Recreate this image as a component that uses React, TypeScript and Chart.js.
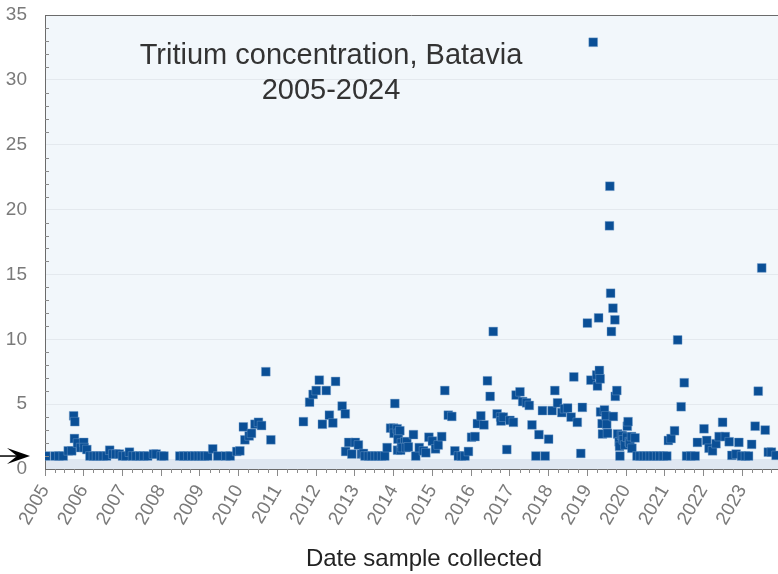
import React, { useEffect, useRef } from "react";
import { Chart, registerables } from "chart.js";

Chart.register(...registerables);

// Sample dates (decimal years) and tritium concentration values
const sampleYear: number[] = [
  2005.02, 2005.26, 2005.36, 2005.47, 2005.6, 2005.69, 2005.74, 2005.77, 2005.76, 2005.84,
  2005.92, 2006.0, 2006.01, 2006.08, 2006.16, 2006.25, 2006.33, 2006.42, 2006.5, 2006.59,
  2006.67, 2006.75, 2006.83, 2006.92, 2007.0, 2007.09, 2007.18, 2007.26, 2007.35, 2007.45,
  2007.55, 2007.65, 2007.8, 2007.87, 2008.0, 2008.07, 2008.48, 2008.58, 2008.69, 2008.79,
  2008.87, 2008.96, 2009.04, 2009.12, 2009.2, 2009.33, 2009.46, 2009.67, 2009.78, 2009.95,
  2010.03, 2010.12, 2010.16, 2010.27, 2010.33, 2010.42, 2010.51, 2010.59, 2010.7, 2010.83,
  2011.67, 2011.83, 2011.92, 2012.0, 2012.08, 2012.16, 2012.26, 2012.34, 2012.43, 2012.5,
  2012.67, 2012.75, 2012.76, 2012.84, 2012.92, 2013.01, 2013.09, 2013.17, 2013.22, 2013.26,
  2013.35, 2013.43, 2013.52, 2013.6, 2013.69, 2013.77, 2013.83, 2013.92, 2014.0, 2014.03,
  2014.01, 2014.09, 2014.12, 2014.16, 2014.11, 2014.1, 2014.18, 2014.2, 2014.29, 2014.34,
  2014.22, 2014.32, 2014.38, 2014.51, 2014.57, 2014.66, 2014.77, 2014.83, 2014.91, 2015.0,
  2015.08, 2015.15, 2015.24, 2015.32, 2015.41, 2015.5, 2015.58, 2015.67, 2015.75, 2015.84,
  2015.93, 2016.01, 2016.1, 2016.16, 2016.25, 2016.33, 2016.42, 2016.49, 2016.57, 2016.67,
  2016.76, 2016.77, 2016.83, 2016.92, 2017.0, 2017.09, 2017.16, 2017.26, 2017.33, 2017.43,
  2017.5, 2017.57, 2017.67, 2017.75, 2017.84, 2017.91, 2018.0, 2018.09, 2018.16, 2018.23,
  2018.34, 2018.41, 2018.49, 2018.58, 2018.65, 2018.74, 2018.83, 2018.87, 2019.0, 2019.09,
  2019.15, 2019.24, 2019.26, 2019.29, 2019.31, 2019.33, 2019.34, 2019.38, 2019.39, 2019.44,
  2019.48, 2019.5, 2019.52, 2019.57, 2019.58, 2019.6, 2019.62, 2019.66, 2019.67, 2019.71,
  2019.72, 2019.76, 2019.78, 2019.82, 2019.83, 2019.84, 2019.88, 2019.91, 2019.93, 2019.97,
  2020.02, 2020.03, 2020.05, 2020.08, 2020.1, 2020.14, 2020.15, 2020.23, 2020.28, 2020.36,
  2020.45, 2020.53, 2020.62, 2020.7, 2020.79, 2020.87, 2020.96, 2021.05, 2021.09, 2021.16,
  2021.25, 2021.33, 2021.42, 2021.5, 2021.56, 2021.67, 2021.78, 2021.84, 2022.01, 2022.08,
  2022.14, 2022.23, 2022.32, 2022.4, 2022.49, 2022.56, 2022.66, 2022.73, 2022.84, 2022.91,
  2022.98, 2023.08, 2023.16, 2023.24, 2023.33, 2023.41, 2023.5, 2023.59, 2023.67, 2023.75,
  2023.87,
];

const tritium: number[] = [
  1.0, 1.0, 1.0, 1.0, 1.4, 1.4, 4.1, 3.65, 2.35, 2.0,
  1.65, 2.05, 1.65, 1.5, 1.0, 1.0, 1.0, 1.0, 1.0, 1.0,
  1.45, 1.15, 1.15, 1.15, 1.0, 1.0, 1.3, 1.0, 1.0, 1.0,
  1.0, 1.0, 1.15, 1.15, 1.0, 1.0, 1.0, 1.0, 1.0, 1.0,
  1.0, 1.0, 1.0, 1.0, 1.0, 1.55, 1.0, 1.0, 1.0, 1.35,
  1.4, 3.25, 2.25, 2.55, 2.75, 3.45, 3.6, 3.35, 7.5, 2.25,
  3.65, 5.15, 5.75, 6.05, 6.85, 3.45, 6.05, 4.15, 3.55, 6.75,
  4.85, 4.25, 1.35, 2.05, 1.15, 2.05, 1.85, 1.15, 1.2, 1.0,
  1.0, 1.0, 1.0, 1.0, 1.0, 1.0, 1.65, 3.15, 3.15, 5.05,
  2.75, 3.1, 2.75, 2.95, 2.3, 1.45, 1.45, 2.0, 2.1, 2.1,
  1.65, 1.65, 1.7, 2.65, 1.0, 1.65, 1.4, 1.25, 2.45, 2.15,
  1.55, 1.85, 2.5, 6.05, 4.15, 4.05, 1.4, 1.0, 1.0, 1.0,
  1.35, 2.45, 2.5, 3.5, 4.1, 3.4, 6.8, 5.6, 10.6, 4.25,
  4.0, 3.7, 4.0, 1.5, 3.75, 3.6, 5.7, 5.95, 5.2, 5.1,
  4.9, 3.4, 1.0, 2.65, 4.5, 1.0, 2.3, 4.5, 6.05, 5.1,
  4.35, 4.65, 4.7, 4.0, 7.1, 3.6, 1.2, 4.75, 11.25, 6.85,
  32.9, 7.25, 6.4, 11.65, 7.6, 6.95, 4.4, 3.5, 2.7, 4.55,
  4.1, 3.45, 2.75, 18.75, 21.8, 13.55, 10.6, 12.4, 4.05, 11.5,
  5.6, 6.05, 2.7, 2.1, 1.75, 1.0, 2.6, 2.55, 2.25, 1.85,
  2.45, 3.3, 3.65, 2.1, 2.0, 2.5, 1.6, 2.4, 1.0, 1.0,
  1.0, 1.0, 1.0, 1.0, 1.0, 1.0, 1.0, 1.0, 2.2, 2.35,
  2.95, 9.95, 4.8, 6.65, 1.0, 1.0, 1.0, 2.05, 3.1, 2.2,
  1.6, 1.4, 1.95, 2.5, 3.6, 2.5, 2.1, 1.05, 1.15, 2.05,
  1.0, 1.0, 1.0, 1.9, 3.3, 6.0, 15.5, 3.0, 1.3, 1.3,
  1.05,
];

const yearTicks: number[] = [
  2005, 2006, 2007, 2008, 2009, 2010, 2011, 2012, 2013, 2014,
  2015, 2016, 2017, 2018, 2019, 2020, 2021, 2022, 2023,
];

const titleLines: string[] = ["Tritium concentration, Batavia", "2005-2024"];
const xAxisTitle = "Date sample collected";
const X_MIN = 2005;
const X_MAX = 2023.92;
const Y_MIN = 0;
const Y_MAX = 35;
const BAND_TOP = 0.77; // shaded band at the bottom of the plot
const ARROW_VALUE = 1; // arrow on the left points to this value

const FONT = "'Liberation Sans', Arial, Helvetica, sans-serif";

const decorPlugin = {
  id: "decor",
  beforeDraw(chart: any) {
    const { ctx, chartArea } = chart;
    const y = chart.scales.y;
    ctx.save();
    ctx.fillStyle = "#f2f7fb";
    ctx.fillRect(chartArea.left, chartArea.top, chartArea.right - chartArea.left, chartArea.bottom - chartArea.top);
    const bandY = y.getPixelForValue(BAND_TOP);
    ctx.fillStyle = "#dfe7f1";
    ctx.fillRect(chartArea.left, bandY, chartArea.right - chartArea.left, chartArea.bottom - bandY);
    ctx.restore();
  },
  afterDraw(chart: any) {
    const { ctx, chartArea } = chart;
    const xs = chart.scales.x;
    const ys = chart.scales.y;
    ctx.save();
    // minor ticks x (quarterly)
    ctx.strokeStyle = "#8a8a8a";
    ctx.lineWidth = 1;
    ctx.beginPath();
    for (let q = X_MIN * 4; q <= X_MAX * 4; q++) {
      const v = q / 4;
      if (Math.abs(v - Math.round(v)) < 1e-6) continue;
      const px = Math.round(xs.getPixelForValue(v)) + 0.5;
      ctx.moveTo(px, chartArea.bottom);
      ctx.lineTo(px, chartArea.bottom + 4);
    }
    // minor ticks y (every unit, inside)
    for (let v = Y_MIN + 1; v < Y_MAX; v++) {
      if (v % 5 === 0) continue;
      const py = Math.round(ys.getPixelForValue(v)) + 0.5;
      ctx.moveTo(chartArea.left, py);
      ctx.lineTo(chartArea.left + 4, py);
    }
    ctx.stroke();
    // top border
    ctx.strokeStyle = "#6b6b6b";
    ctx.beginPath();
    ctx.moveTo(chartArea.left, chartArea.top + 0.5);
    ctx.lineTo(chartArea.right, chartArea.top + 0.5);
    ctx.stroke();

    // arrow at the left
    const ay = ys.getPixelForValue(ARROW_VALUE);
    ctx.strokeStyle = "#000";
    ctx.fillStyle = "#000";
    ctx.lineWidth = 1.5;
    ctx.beginPath();
    ctx.moveTo(0, ay);
    ctx.lineTo(24, ay);
    ctx.stroke();
    ctx.beginPath();
    ctx.moveTo(30, ay);
    ctx.lineTo(7, ay - 8);
    ctx.lineTo(17, ay);
    ctx.lineTo(7, ay + 8);
    ctx.closePath();
    ctx.fill();

    // title inside plot
    ctx.fillStyle = "#333333";
    ctx.font = `29px ${FONT}`;
    ctx.textAlign = "center";
    ctx.textBaseline = "alphabetic";
    ctx.fillText(titleLines[0], 331, 64);
    ctx.fillText(titleLines[1], 331, 99);

    // x axis title
    ctx.fillStyle = "#222222";
    ctx.font = `24px ${FONT}`;
    ctx.fillText(xAxisTitle, 424, 566);
    ctx.restore();
  },
};

export default function App() {
  const canvasRef = useRef<HTMLCanvasElement | null>(null);

  useEffect(() => {
    if (!canvasRef.current) return;
    const points = sampleYear.map((x, i) => ({ x, y: tritium[i] }));
    const chart = new Chart(canvasRef.current, {
      type: "scatter",
      data: {
        datasets: [
          {
            data: points,
            pointStyle: "rect",
            pointRadius: 6.2,
            pointHoverRadius: 6.2,
            backgroundColor: "#0a4f96",
            borderColor: "rgba(120,160,205,0.7)",
            borderWidth: 0.6,
          },
        ],
      },
      options: {
        responsive: false,
        animation: false,
        devicePixelRatio: 1,
        layout: { autoPadding: false, padding: { top: 15, right: 0, left: 0, bottom: 0 } },
        plugins: {
          legend: { display: false },
          tooltip: { enabled: false },
          title: { display: false },
        },
        scales: {
          x: {
            type: "linear",
            min: X_MIN,
            max: X_MAX,
            afterFit: (s: any) => {
              s.height = 105;
              s.paddingLeft = 0;
              s.paddingRight = 0;
              s.paddingTop = 0;
              s.paddingBottom = 0;
            },
            afterBuildTicks: (s: any) => {
              s.ticks = yearTicks.map((v) => ({ value: v }));
            },
            grid: {
              drawOnChartArea: false,
              drawTicks: true,
              tickLength: 7,
              tickColor: "#8a8a8a",
            },
            border: { color: "#6b6b6b", width: 1 },
            ticks: {
              autoSkip: false,
              maxRotation: 60,
              minRotation: 60,
              padding: 5,
              color: "#7a7a7a",
              font: { family: FONT, size: 19 },
              callback: (v: any) => String(v),
            },
          },
          y: {
            min: Y_MIN,
            max: Y_MAX,
            afterFit: (s: any) => {
              s.width = 45;
              s.paddingLeft = 0;
              s.paddingRight = 0;
              s.paddingTop = 0;
              s.paddingBottom = 0;
            },
            grid: {
              color: "#e4e9ee",
              drawTicks: false,
            },
            border: { color: "#6b6b6b", width: 1 },
            ticks: {
              stepSize: 5,
              padding: 18,
              color: "#7a7a7a",
              font: { family: FONT, size: 19 },
            },
          },
        },
      },
      plugins: [decorPlugin],
    });
    return () => chart.destroy();
  }, []);

  return (
    <div style={{ position: "absolute", left: 0, top: 0, width: 778, height: 574 }}>
      <canvas ref={canvasRef} width={778} height={574} style={{ display: "block" }} />
    </div>
  );
}
